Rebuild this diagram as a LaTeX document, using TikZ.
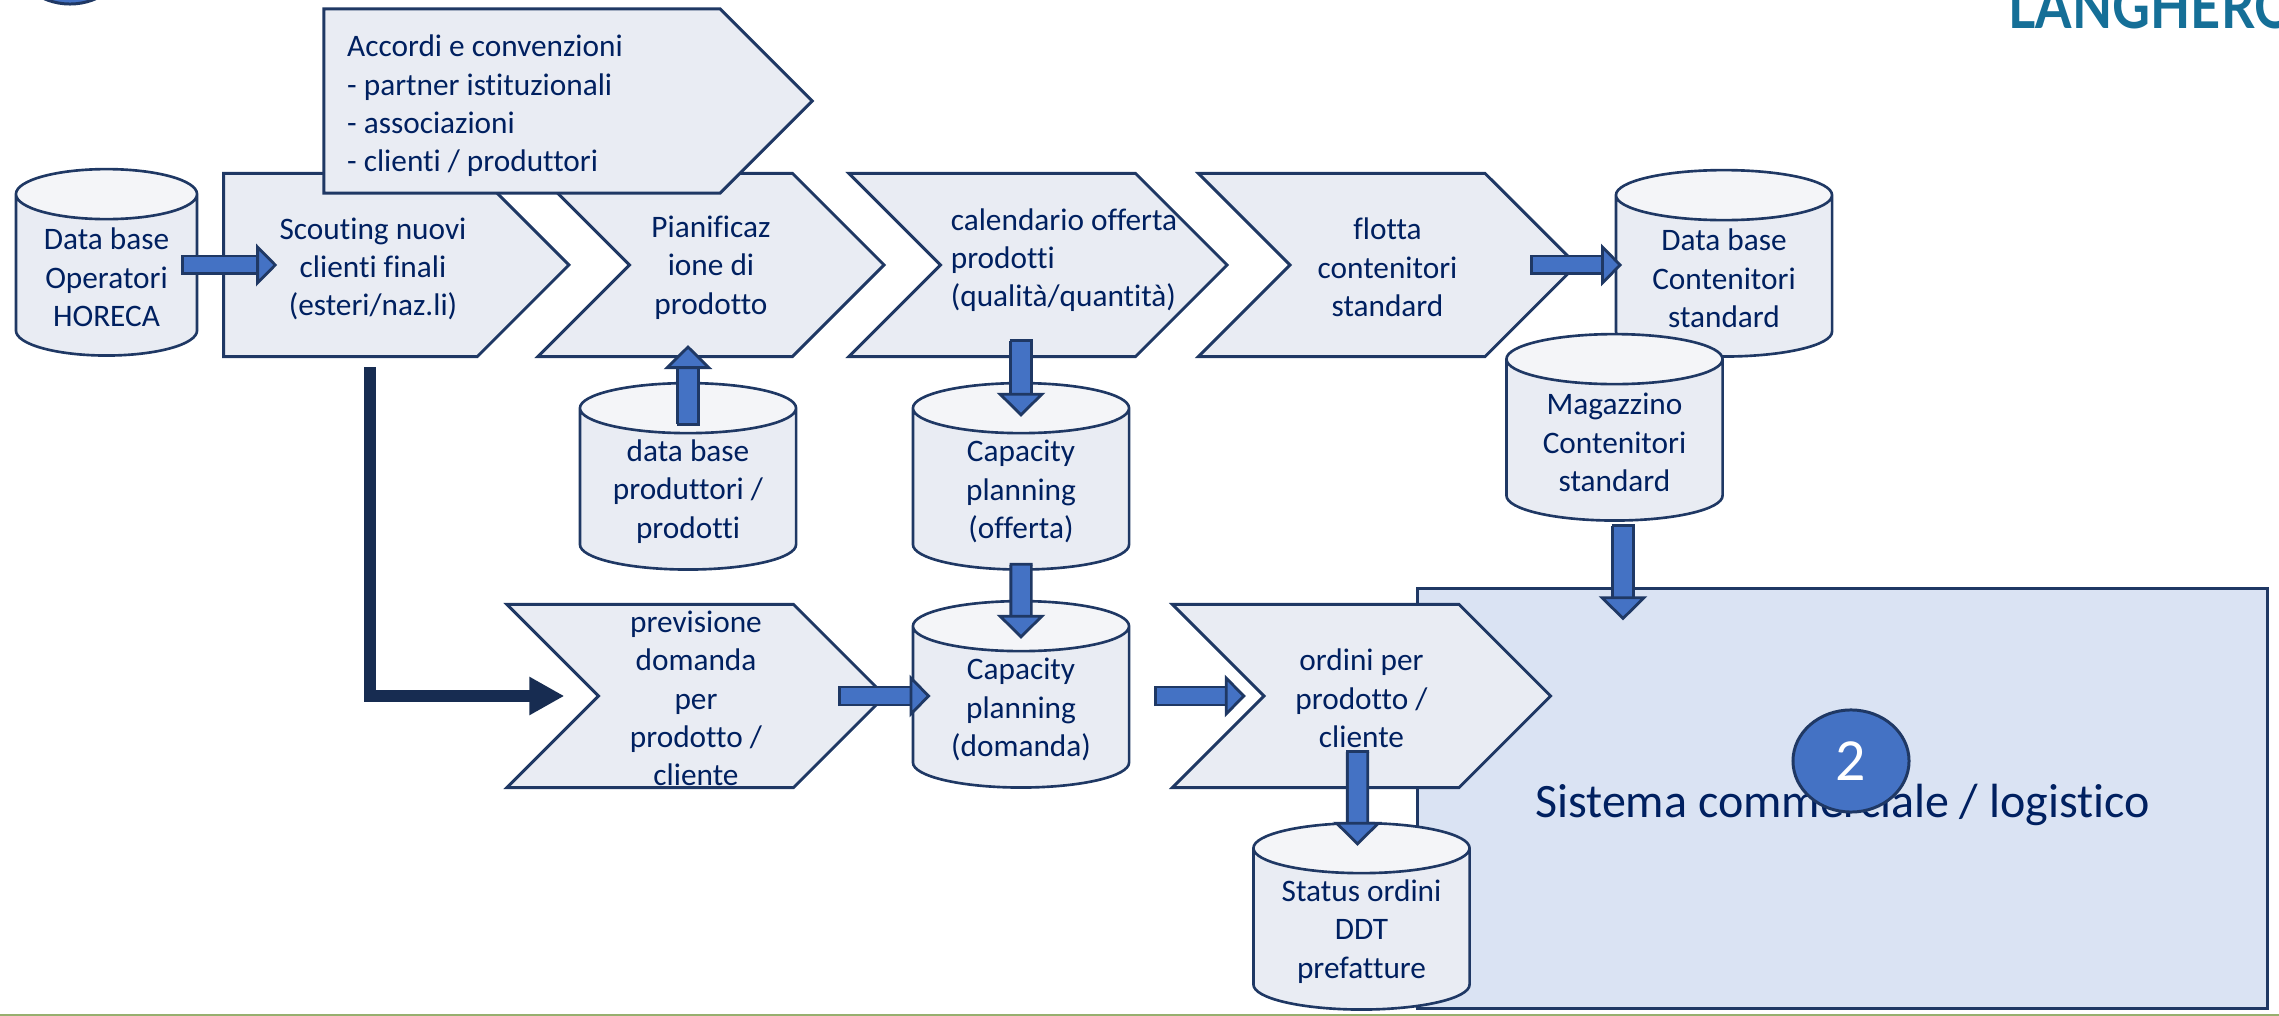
\documentclass[tikz,border=0pt]{standalone}
\usepackage{fontspec}
\setmainfont{Carlito}[Ligatures=CommonOff]
\newfontfamily\logofont{Lato}[FakeStretch=0.85]
\usetikzlibrary{arrows.meta,shapes.geometric,shapes.symbols,calc}
\definecolor{stepFill}{RGB}{233, 236, 243}
\definecolor{stepEdge}{RGB}{31, 56, 100}
\definecolor{cylTop}{RGB}{244, 245, 248}
\definecolor{panelBlue}{RGB}{218, 227, 243}
\definecolor{blockBlue}{RGB}{68, 114, 196}
\definecolor{textNavy}{RGB}{0, 32, 96}
\definecolor{darkNavy}{RGB}{23, 44, 81}
\definecolor{logoTeal}{RGB}{21, 111, 151}
\definecolor{footGreen}{RGB}{150, 175, 110}

\begin{document}
\begin{tikzpicture}[
        x=0.01cm, y=-0.01cm,
        bodytext/.style={font=\fontsize{8.9pt}{10.9pt}\selectfont, text=textNavy, align=center, inner sep=0pt},
        chevron/.style={signal, signal to=east, signal from=west, signal pointer angle=90, draw=stepEdge, fill=stepFill, line width=0.85pt, minimum width=3.78cm, minimum height=1.83cm, inner sep=0pt},
        homeplate/.style={chevron, signal from=nowhere},
        steplabel/.style={label={[bodytext, yshift=-0.025cm]center:{#1}}},
        database/.style={cylinder, shape border rotate=90, aspect=0.5, draw=stepEdge, line width=0.75pt, cylinder uses custom fill, cylinder body fill=stepFill, cylinder end fill=cylTop, text width=1cm, text height=1.1cm, text depth=0pt, minimum width=2.16cm, minimum height=1.74cm, inner sep=0pt, label={[bodytext, text width=, text height=, text depth=, yshift=-0.02cm]center:{#1}}},
        blockarrow/.style={draw=stepEdge, line width=0.8pt, double=blockBlue, double distance=0.15cm, {Bar[width=0.2cm,line width=0.8pt]}-{Triangle[length=0.21cm,width=0.42cm,fill=blockBlue]}},
        blockdown/.style={blockarrow, double distance=0.175cm, {Bar[width=0.23cm,line width=0.8pt]}-{Triangle[length=0.24cm,width=0.48cm,fill=blockBlue]}},
        scoutarrow/.style={draw=darkNavy, line width=0.12cm, -{Triangle[length=0.35cm,width=0.36cm]}}
    ]
        \clip (0,0) rectangle (2279,1016);

        % Logo and cut badge
        \node[anchor=base west, inner sep=0pt, text=logoTeal, font=\logofont\bfseries\fontsize{17.5pt}{19pt}\selectfont] (logo) at (2008,29) {LANGHERO};
        \node[ellipse, draw=stepEdge, fill=blockBlue, line width=0.85pt, minimum width=1.16cm, minimum height=1.02cm] (badgeOne) at (70,-47) {};

        % Panel
        \node[rectangle, draw=stepEdge, fill=panelBlue, line width=0.85pt, minimum width=8.49cm, minimum height=4.19cm, inner sep=0pt, label={[inner sep=0pt, text=textNavy, font=\fontsize{13.65pt}{16pt}\selectfont, yshift=-0.06cm]center:{Sistema commerciale / logistico}}] (panel) at (1842.5,798.5) {};

        % Top row
        \node[database={Data base\\Operatori\\HORECA}, minimum width=1.81cm] (dbOperatori) at (106.5,275.5) {};
        \node[homeplate, minimum width=3.45cm, label={[bodytext, xshift=0.225cm, yshift=-0.04cm]center:{Scouting nuovi\\clienti finali\\(esteri/naz.li)}}] (scouting) at (350.5,265) {};
        \node[chevron, minimum width=3.46cm, steplabel={Pianificaz\\ione di\\prodotto}] (pianificazione) at (711,265) {};
        \node[chevron, label={[bodytext, align=left, xshift=0.26cm, yshift=0.05cm]center:{calendario offerta\\prodotti\\(qualità/quantità)}}] (calendario) at (1038,265) {};
        \node[chevron, steplabel={flotta\\contenitori\\standard}] (flotta) at (1387.5,265) {};
        \node[homeplate, minimum width=4.88cm, minimum height=1.84cm, label={[bodytext, align=left, xshift=-0.37cm, yshift=-0.05cm]center:{Accordi e convenzioni\\- partner istituzionali\\- associazioni\\- clienti / produttori}}] (accordi) at (522,101) {};
        \node[database={Data base\\Contenitori\\standard}] (dbContenitori) at (1724,276.5) {};
        \node[database={Magazzino\\Contenitori\\standard}] (magazzino) at (1614.5,440.5) {};

        % Middle row
        \node[database={data base\\produttori /\\prodotti}] (dbProduttori) at (688,489.5) {};
        \node[database={Capacity\\planning\\(offerta)}] (capacityOfferta) at (1021,489.5) {};

        % Bottom row
        \node[chevron, steplabel={previsione\\domanda\\per\\prodotto /\\cliente}] (previsione) at (696,696) {};
        \node[database={Capacity\\planning\\(domanda)}] (capacityDomanda) at (1021,707.5) {};
        \node[chevron, steplabel={ordini per\\prodotto /\\cliente}] (ordini) at (1361.5,696) {};
        \node[database={Status ordini\\DDT\\prefatture}] (statusOrdini) at (1361.5,929.5) {};

        % Badge
        \node[ellipse, draw=stepEdge, fill=blockBlue, line width=0.85pt, minimum width=1.16cm, minimum height=1.02cm, inner sep=0pt, text=white, font=\fontsize{17pt}{20pt}\selectfont] (badgeTwo) at (1851,761) {2};

        % Arrows
        \draw[blockarrow, shorten <=-0.17cm, shorten >=-0.55cm] (scouting.west -| dbOperatori.east) -- (scouting.west);
        \draw[blockdown, shorten <=-0.44cm, shorten >=-0.13cm] (dbProduttori.north) -- (dbProduttori.north |- pianificazione.south);
        \draw[blockdown, shorten <=-0.19cm, shorten >=-0.35cm] (calendario.south -| capacityOfferta.north) -- (capacityOfferta.north);
        \draw[blockdown, shorten <=-0.08cm, shorten >=-0.39cm] (capacityOfferta.south) -- (capacityDomanda.north);
        \draw[blockarrow, shorten <=-0.49cm, shorten >=-0.19cm] (previsione.east) -- (previsione.east -| capacityDomanda.west);
        \draw[blockarrow, shorten <=0.24cm, shorten >=0.16cm] (ordini.west -| capacityDomanda.east) -- (ordini.west);
        \draw[blockdown, shorten <=-0.39cm, shorten >=-0.24cm] ([xshift=-0.04cm]ordini.south) -- ([xshift=-0.04cm]statusOrdini.north);
        \draw[blockarrow, shorten <=-0.49cm, shorten >=-0.075cm] (flotta.east) -- (flotta.east -| dbContenitori.west);
        \draw[blockdown, shorten <=0.02cm, shorten >=-0.33cm] ([xshift=0.085cm]magazzino.south) -- ([xshift=0.085cm]magazzino.south |- panel.north);
        \draw[scoutarrow, shorten <=0.09cm, shorten >=0.32cm] ([xshift=0.19cm]scouting.south) |- (previsione.west);

        % Footer line
        \coordinate (footLeft) at (0,1015);
        \coordinate (footRight) at (2279,1015);
        \draw[footGreen, line width=0.6pt] (footLeft) -- (footRight);
    \end{tikzpicture}
\end{document}
